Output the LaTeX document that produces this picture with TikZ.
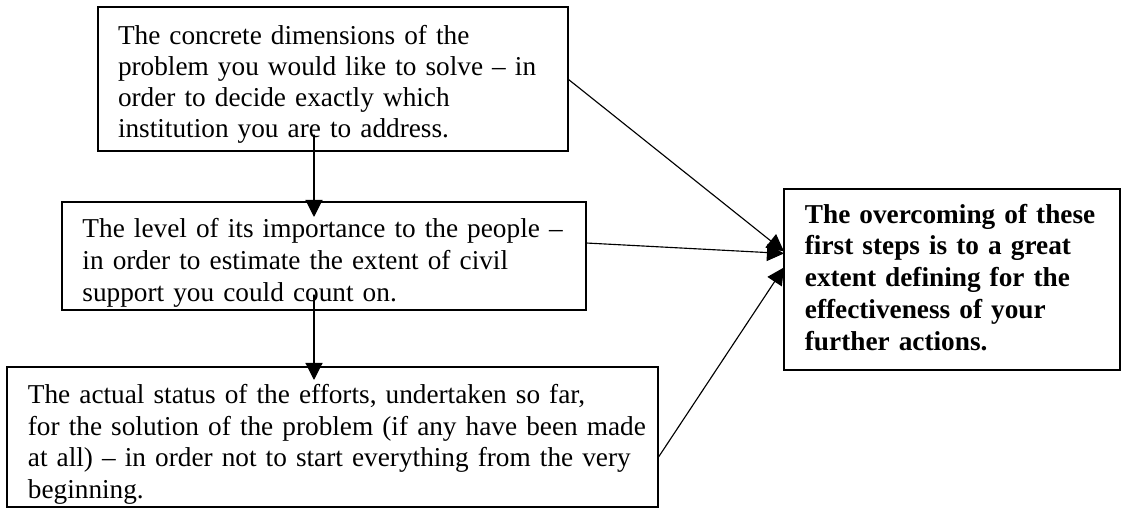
\documentclass[tikz,border=0pt]{standalone}
\usepackage{fontspec}
\setmainfont{Liberation Serif}
\usetikzlibrary{arrows.meta}

\begin{document}
\begin{tikzpicture}[line cap=round,line join=round,>={Triangle[length=7.5pt,width=7.5pt]},x=0.44pt,y=-0.44pt,
  box/.style={draw,line width=0.9pt,line join=miter,anchor=north west,outer sep=0pt,inner xsep=9pt,inner ysep=8pt,align=left,font=\fontsize{12}{13.6}\selectfont},
  link/.style={->,line width=0.5pt}]
\useasboundingbox (0,0) rectangle (1123,510);
\node[box,inner xsep=8.8pt,text width=189.2pt,text height=8.7pt,text depth=38.7pt] (dims) at (98,7)
  {The concrete dimensions of the\\problem you would like to solve -- in\\order to decide exactly which\\institution you are to address.};
\node[box,font=\fontsize{12}{14}\selectfont,text width=212.6pt,text height=7.8pt,text depth=23.7pt] (level) at (62,202)
  {The level of its importance to the people --\\in order to estimate the extent of civil\\support you could count on.};
\node[box,inner xsep=9.2pt,font=\fontsize{12}{14}\selectfont,text width=268pt,text height=8pt,text depth=37.6pt] (status) at (7,367)
  {The actual status of the efforts, undertaken so far,\\\mbox{for the solution of the problem (if any have been made}\\at all) -- in order not to start everything from the very\\beginning.};
\node[box,inner xsep=9.2pt,font=\fontsize{12}{14}\selectfont\bfseries,text width=129.4pt,text height=7pt,text depth=56.6pt] (result) at (784,189)
  {The overcoming of these\\first steps is to a great\\extent defining for the\\effectiveness of your\\further actions.};
\coordinate (dimsout) at (314,135);
\coordinate (levelout) at (314,295);
\path (dimsout |- level.north) ++(0,15) coordinate (levelin);
\path (levelout |- status.north) ++(0,13) coordinate (statusin);
\draw[link] (dimsout) -- (levelin);
\draw[link] (levelout) -- (statusin);
\path (level.north east) ++(0,41) coordinate (levelright);
\path (status.east) ++(0,21) coordinate (statusright);
\path (result.west) ++(0,-28) coordinate (tipa) ++(0,2) coordinate (tipb) ++(0,14) coordinate (tipc);
\draw[link] (dims.east) -- (tipa);
\draw[link] (levelright) -- (tipb);
\draw[link] (statusright) -- (tipc);
\end{tikzpicture}
\end{document}
